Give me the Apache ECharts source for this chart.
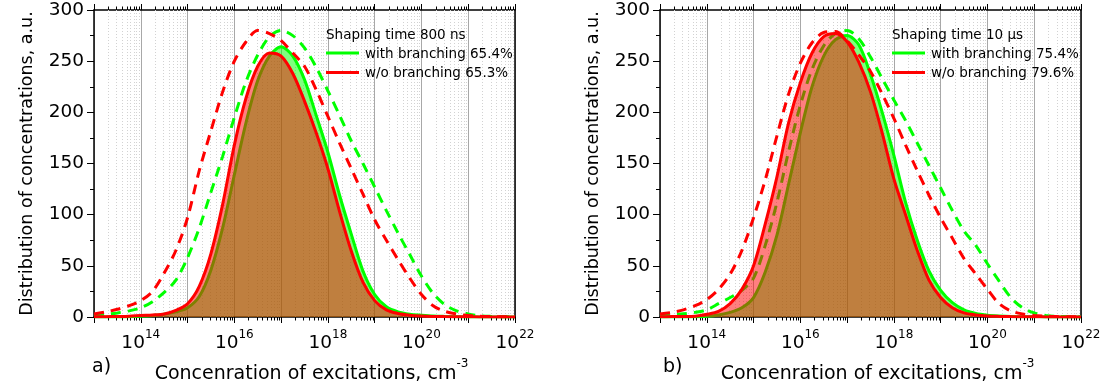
<!DOCTYPE html>
<html><head><meta charset="utf-8">
<script src="https://cdn.jsdelivr.net/npm/echarts@6/dist/echarts.min.js"></script>
<style>html,body{margin:0;padding:0;background:#fff}#c{width:1109px;height:389px}</style>
</head><body><div id="c"></div><script>
// log10 of concentration (cm^-3)
const logX = [13.0,13.25,13.5,13.75,14.0,14.25,14.5,14.75,15.0,15.25,15.5,15.75,16.0,16.25,16.5,16.75,17.0,17.25,17.5,17.75,18.0,18.25,18.5,18.75,19.0,19.25,19.5,19.75,20.0,20.25,20.5,20.75,21.0,21.25,21.5,21.75,22.0];
// Panel a) shaping time 800 ns
const greenA     = [0,0,0.1,0.3,0.8,1.5,2.8,5,9,20,46,87,139,190,231,255,264,255,232,197,161,119,81,45,22,10,5,2.8,1.8,1.0,0.6,0.3,0.1,0.1,0,0,0];
const greenDashA = [1.5,2.5,4,6,9,15,24,36,58,87,122,157,195,230,256,274,280,275,263,244,221,197,172,150,127,104,82,61,40,23,12,6,3,1.2,0.6,0.3,0.1];
const redA       = [0.2,0.3,0.5,0.8,1.5,2,3,6.5,13,30,62,110,168,214,245,258,255,238,211,180,145,103,64.5,34,16,7,3.5,1.8,1,0.6,0.4,0.3,0.2,0.1,0.1,0.1,0.1];
const redDashA   = [3,5,7.5,11,16,25,43,65,97,143,182,220,250,269,280,277,270,258,245,222,196,170,145,120,95,75,56,38,22,11,5.5,3,1.5,0.8,0.4,0.2,0.1];
// Panel b) shaping time 10 us
const greenB     = [0,0,0.1,0.3,0.8,2,4.5,9,19,44,80,130,180,225,255,271,275,266,237,200,158,112,75,45,26,14,7,3.5,1.8,1,0.5,0.3,0.2,0.1,0,0,0];
const greenDashB = [1.5,2.3,3.2,4.5,7,13,19,26,38,70,112,162,207,242,265,277,280,272,254,233,212,192,170,148,126,104,84,70,52,35,19,9,4,1.5,0.6,0.3,0.1];
const redB       = [0.3,0.4,0.5,0.8,2.6,5.5,13,27,50,91,137,190,229,258,274,277,269,249,220,180,135,100,65,36,19,9,4,2,1,0.6,0.4,0.3,0.2,0.1,0.1,0.1,0.1];
const redDashB   = [3,4.5,7,11,17,27,42,65,97,134,177,218,248,268,278,279,270,256,240,218,194,168,143,119,97,77,57,42,27,13,6,3,1.5,0.8,0.4,0.2,0.1];
// texts
const legendA = ['Shaping time 800 ns','with branching 65.4%','w/o branching 65.3%'];
const legendB = ['Shaping time 10 \u03bcs','with branching 75.4%','w/o branching 79.6%'];
const panelTags = ['a)','b)'];
const xName = 'Concenration of excitations, cm';
const xNameSup = '-3';
const yName = 'Distribution of concentrations, a.u.';

const FONT = 'DejaVu Sans';
const XMIN = 1e13, XMAX = 1e22, YMIN = 0, YMAX = 300;
const GREEN = '#00ff00', RED = '#ff0000';

function pts(vals){ return logX.map((l,i)=>[Math.pow(10,l), vals[i]]); }
const minorVals = [];
for (let e = 13; e < 22; e++) for (let k = 2; k <= 9; k++) minorVals.push([k*Math.pow(10,e), 0]);

const grids = [
  {left:94, top:10, width:421, height:310},
  {left:660, top:10, width:421, height:310}
];

const xAxes = [], yAxes = [], series = [];
const xLabel = {
  show:true, margin:12,
  formatter: v => { const e = Math.round(Math.log10(v)); return (e % 2 === 0) ? '{b|10}{s|' + e + '}' : ''; },
  rich: {
    b:{fontSize:18.5, fontFamily:FONT, color:'#000', lineHeight:24, verticalAlign:'bottom'},
    s:{fontSize:12, fontFamily:FONT, color:'#000', lineHeight:12, verticalAlign:'top'}
  }
};
[0,1].forEach(g=>{
  xAxes.push({
    type:'log', logBase:10, gridIndex:g, position:'bottom', min:XMIN, max:XMAX, splitNumber:9,
    axisLine:{show:true, onZero:false, lineStyle:{color:'#000', width:1.5}},
    axisTick:{show:true, length:6, lineStyle:{color:'#000', width:1}},
    axisLabel:xLabel,
    splitLine:{show:true, lineStyle:{color:'#a8a8a8', width:1}},
    minorTick:{show:false}, minorSplitLine:{show:false},
    name:'{a|' + xName + '}{s|' + xNameSup + '}', nameLocation:'middle', nameGap:41,
    nameTextStyle:{padding:[0,0,0,14], rich:{
      a:{fontSize:19, fontFamily:FONT, color:'#000', lineHeight:26, verticalAlign:'bottom'},
      s:{fontSize:12, fontFamily:FONT, color:'#000', lineHeight:12, verticalAlign:'top'}}}
  });
  xAxes.push({
    type:'log', logBase:10, gridIndex:g, position:'top', min:XMIN, max:XMAX, splitNumber:9,
    axisLine:{show:true, onZero:false, lineStyle:{color:'#000', width:1.5}},
    axisTick:{show:true, length:6, lineStyle:{color:'#000', width:1}},
    axisLabel:{show:false}, splitLine:{show:false}
  });
  yAxes.push({
    type:'value', gridIndex:g, position:'left', min:YMIN, max:YMAX, interval:50,
    axisLine:{show:true, lineStyle:{color:'#000', width:1.5}},
    axisTick:{show:true, length:7, lineStyle:{color:'#000', width:1}},
    minorTick:{show:true, splitNumber:2, length:4, lineStyle:{color:'#000', width:1}},
    axisLabel:{fontSize:18.5, fontFamily:FONT, color:'#000', margin:10},
    splitLine:{show:false},
    name:yName, nameLocation:'middle', nameGap:58, nameRotate:90,
    nameTextStyle:{fontSize:17.5, fontFamily:FONT, color:'#000'}
  });
  yAxes.push({
    type:'value', gridIndex:g, position:'right', min:YMIN, max:YMAX, interval:50,
    axisLine:{show:true, lineStyle:{color:'#000', width:1.5}},
    axisTick:{show:false}, axisLabel:{show:false}, splitLine:{show:false}
  });
});

const panels = [
  [greenA, greenDashA, redA, redDashA],
  [greenB, greenDashB, redB, redDashB]
];
panels.forEach((p,g)=>{
  const xi = g*2, yi = g*2;
  series.push({
    type:'custom', xAxisIndex:xi, yAxisIndex:yi, z:1, clip:false, silent:true,
    data:minorVals, encode:{x:0, y:1},
    renderItem:(params, api)=>{
      const x = api.value(0);
      const a = api.coord([x, YMIN]), b = api.coord([x, YMAX]);
      const px = Math.round(a[0]) + 0.5;
      return {type:'group', children:[
        {type:'line', shape:{x1:px, y1:a[1], x2:px, y2:b[1]}, style:{stroke:'#d2d2d2', lineWidth:1, lineDash:[1,2]}},
        {type:'line', shape:{x1:px, y1:a[1], x2:px, y2:a[1]+3.5}, style:{stroke:'#000', lineWidth:1}},
        {type:'line', shape:{x1:px, y1:b[1], x2:px, y2:b[1]-3.5}, style:{stroke:'#000', lineWidth:1}}
      ]};
    }
  });
  const common = {type:'line', xAxisIndex:xi, yAxisIndex:yi, showSymbol:false, smooth:0.3, silent:true, animation:false};
  series.push(Object.assign({}, common, {data:pts(p[0]), z:2, lineStyle:{color:GREEN, width:3}, areaStyle:{color:'rgba(0,255,0,0.5)', opacity:1}}));
  series.push(Object.assign({}, common, {data:pts(p[1]), z:3, lineStyle:{color:GREEN, width:3, type:[10,7]}}));
  series.push(Object.assign({}, common, {data:pts(p[2]), z:4, lineStyle:{color:RED, width:3}, areaStyle:{color:'rgba(255,0,0,0.5)', opacity:1}}));
  series.push(Object.assign({}, common, {data:pts(p[3]), z:5, lineStyle:{color:RED, width:3, type:[10,7]}}));
});

function txt(x, y, s, fs){ return {type:'text', x:x, y:y, z:100, style:{text:s, fontSize:fs, fontFamily:FONT, fill:'#000', verticalAlign:'middle', align:'left'}}; }
function seg(x1, x2, y, c){ return {type:'line', z:100, shape:{x1:x1, y1:y, x2:x2, y2:y}, style:{stroke:c, lineWidth:3}}; }
const graphic = [];
[[legendA, 94], [legendB, 660]].forEach(([lg, L])=>{
  graphic.push(txt(L+232, 35.5, lg[0], 13.5));
  graphic.push(seg(L+232, L+265, 53, GREEN));
  graphic.push(txt(L+271, 54.5, lg[1], 13.5));
  graphic.push(seg(L+232, L+265, 72.5, RED));
  graphic.push(txt(L+271, 73.5, lg[2], 13.5));
});
graphic.push(txt(92, 367, panelTags[0], 19));
graphic.push(txt(663, 367, panelTags[1], 19));

const chart = echarts.init(document.getElementById('c'));
chart.setOption({
  animation:false, backgroundColor:'#fff',
  grid:grids, xAxis:xAxes, yAxis:yAxes, series:series, graphic:graphic
});
</script></body></html>
